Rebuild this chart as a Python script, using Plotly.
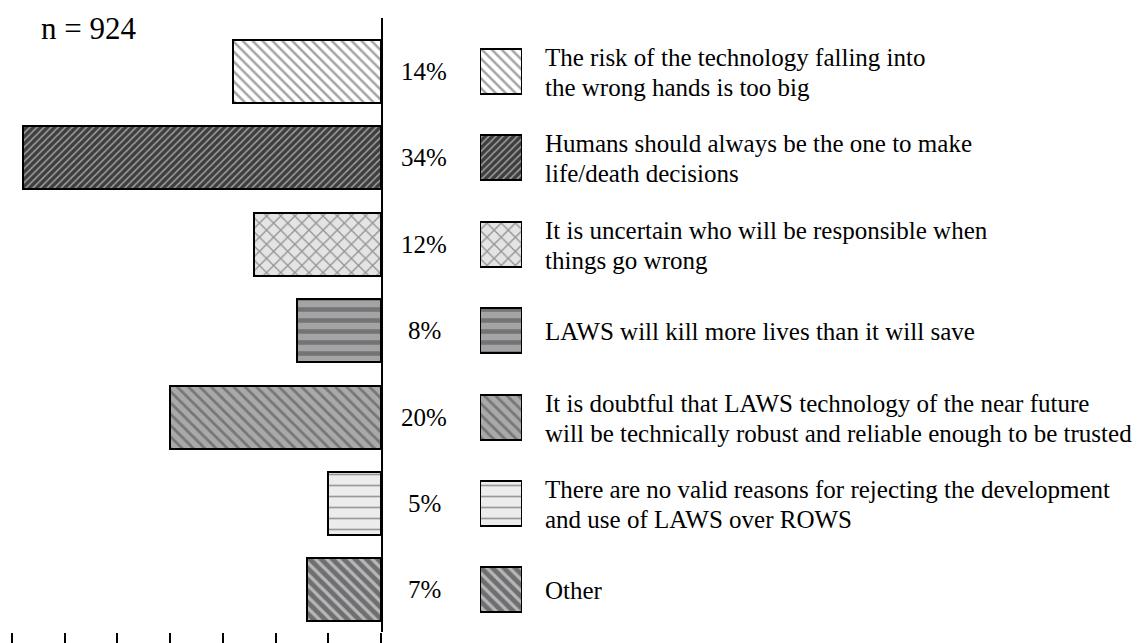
import plotly.graph_objects as go

# ---- data ----
categories = ["risk", "humans", "uncertain", "kill", "doubtful", "novalid", "other"]
values = [14, 34, 12, 8, 20, 5, 7]
labels = [
    "The risk of the technology falling into\nthe wrong hands is too big",
    "Humans should always be the one to make\nlife/death decisions",
    "It is uncertain who will be responsible when\nthings go wrong",
    "LAWS will kill more lives than it will save",
    "It is doubtful that LAWS technology of the near future\nwill be technically robust and reliable enough to be trusted",
    "There are no valid reasons for rejecting the development\nand use of LAWS over ROWS",
    "Other",
]
x_ticks = [0, 5, 10, 15, 20, 25, 30, 35]
sample_note = "n = 924"

# ---- styles ----
bg_colors = ["#ffffff", "#3e3e3e", "#e4e4e4", "#a4a4a6", "#a9a9a9", "#ececec", "#6f6f71"]
fg_colors = ["#9a9a9a", "#515151", "#b4b4b4", "#eeeeee", "#d9d9d9", "#cdcdcd", "#474747"]
shapes_p = ["\\", "/", "x", "-", "\\", "-", "\\"]
sizes_p = [7, 5, 10, 11, 8, 11, 8]
solid_p = [0.35, 0.3, 0.25, 0.42, 0.35, 0.15, 0.4]

OFF = 8  # page body margin
W, H = 1146 - OFF, 643 - OFF
L, R, T, B = 12 - OFF, 0, 18 - OFF, 11
PW = W - L - R


def px(x_screen):
    return (x_screen - OFF - L) / PW


axis_px = 381
sw_left, sw_right = 480, 522
pct_x = 424
text_x = 543

pattern = dict(shape=shapes_p, fgcolor=fg_colors, size=sizes_p, solidity=solid_p)

fig = go.Figure()
fig.add_trace(go.Bar(
    y=categories, x=values, orientation="h", width=0.73,
    marker=dict(color=bg_colors, line=dict(color="black", width=2), pattern=pattern),
    xaxis="x", yaxis="y", showlegend=False, hoverinfo="skip",
))
fig.add_trace(go.Bar(
    y=categories, x=[1] * len(categories), orientation="h", width=0.52,
    marker=dict(color=bg_colors, line=dict(color="black", width=2), pattern=pattern),
    xaxis="x2", yaxis="y", showlegend=False, hoverinfo="skip",
))

annotations = []
font = dict(family="Liberation Serif", size=25, color="black")
for cat, v, lab in zip(categories, values, labels):
    annotations.append(dict(x=px(pct_x), xref="paper", y=cat, yref="y", text=f"{v}%",
                            showarrow=False, xanchor="center", yanchor="middle", font=font))
    lines = lab.split("\n")
    n = len(lines)
    for i, line in enumerate(lines):
        shift = (n - 1) * 15 - i * 30
        annotations.append(dict(x=px(text_x), xref="paper", y=cat, yref="y", text=line,
                                showarrow=False, xanchor="left", yanchor="middle",
                                yshift=shift - 1, font=font))
annotations.append(dict(x=px(88), xref="paper", y=(H - (28 - OFF) - B) / (H - T - B), yref="paper",
                        text=sample_note, showarrow=False, xanchor="center", yanchor="middle",
                        font=dict(family="Liberation Serif", size=31, color="black")))

unit = 86.4
top_val = -(71.5 - 18) / unit
bot_val = top_val + (H - T - B) / unit

fig.update_layout(
    width=W, height=H,
    margin=dict(l=L, r=R, t=T, b=B),
    paper_bgcolor="white", plot_bgcolor="white",
    bargap=0,
    xaxis=dict(domain=[0, px(axis_px)], range=[35, 0], tickvals=x_ticks, showticklabels=False,
               ticks="outside", ticklen=12, tickwidth=2, tickcolor="black",
               showline=False, showgrid=False, zeroline=False, fixedrange=True),
    xaxis2=dict(domain=[px(sw_left), px(sw_right)], range=[0, 1], anchor="y",
                showticklabels=False, showgrid=False, zeroline=False, showline=False, ticks=""),
    yaxis=dict(categoryorder="array", categoryarray=categories, range=[bot_val, top_val],
               side="right", showline=True, linewidth=2, linecolor="black",
               showticklabels=False, ticks="", showgrid=False, zeroline=False),
    annotations=annotations,
)

fig.write_html("out.html")
